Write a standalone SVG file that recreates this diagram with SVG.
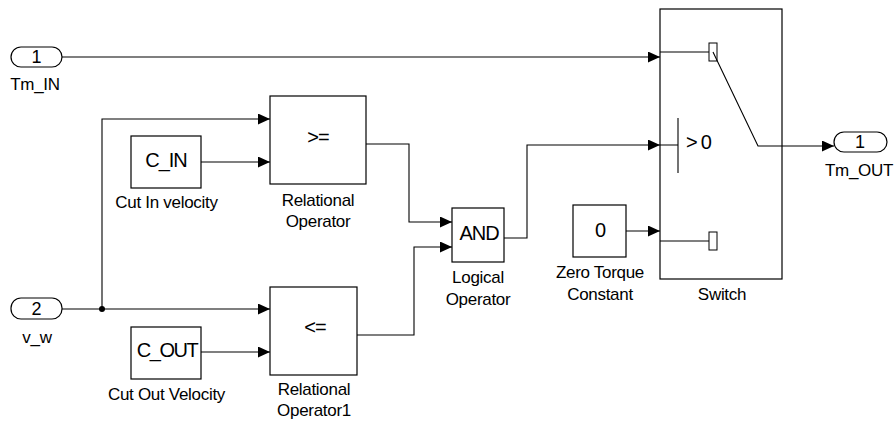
<svg xmlns="http://www.w3.org/2000/svg" width="894" height="421" viewBox="0 0 894 421">
<defs>
<marker id="arr" markerUnits="userSpaceOnUse" markerWidth="12" markerHeight="11" refX="12" refY="5.5" orient="auto"><path d="M0,0 L12,5.5 L0,11 z" fill="#000"/></marker>
<style>
.blk{fill:#fff;stroke:#000;stroke-width:1.2}
.ln{fill:none;stroke:#000;stroke-width:1.1}
.w{stroke:#000;stroke-width:1.1;fill:none;marker-end:url(#arr)}
.lbl{font-family:"Liberation Sans",Arial,sans-serif;font-size:17px;letter-spacing:-0.3px;fill:#000;text-anchor:middle}
.big{font-family:"Liberation Sans",Arial,sans-serif;font-size:20px;letter-spacing:-1px;fill:#000;text-anchor:middle}
.num{font-family:"Liberation Sans",Arial,sans-serif;font-size:18px;fill:#000;text-anchor:middle}
</style>
</defs>
<rect width="894" height="421" fill="#fff"/>
<g id="connectors">
<path class="w" d="M62,57 H660"/>
<path class="w" d="M62,309 H270"/>
<path class="w" d="M102,309 V119 H270"/>
<circle cx="102" cy="309" r="3" fill="#000"/>
<path class="w" d="M201,162 H270"/>
<path class="w" d="M201,352 H270"/>
<path class="w" d="M366,144 H409 V222 H452"/>
<path class="w" d="M357,335 H414 V247 H452"/>
<path class="w" d="M504,238 H527 V145 H660"/>
<path class="w" d="M626,231 H660"/>
<path class="w" d="M782,146 H834"/>
</g>
<g id="tm_in">
<rect class="blk" x="11" y="47" width="51" height="20" rx="10"/>
<text class="num" x="36.5" y="63">1</text>
<text class="lbl" x="35" y="90">Tm_IN</text>
</g>
<g id="v_w">
<rect class="blk" x="11" y="298" width="51" height="21" rx="10"/>
<text class="num" x="36.5" y="315">2</text>
<text class="lbl" x="37" y="343">v_w</text>
</g>
<g id="c_in">
<rect class="blk" x="131" y="136" width="70" height="52"/>
<text class="big" x="166" y="167">C_IN</text>
<text class="lbl" x="166.5" y="208">Cut In velocity</text>
</g>
<g id="c_out">
<rect class="blk" x="131" y="327" width="70" height="52"/>
<text class="big" x="167" y="357" style="letter-spacing:-1.5px">C_OUT</text>
<text class="lbl" x="166.5" y="400">Cut Out Velocity</text>
</g>
<g id="relop">
<rect class="blk" x="270" y="96" width="96" height="88"/>
<text class="big" x="318" y="144">&gt;=</text>
<text class="lbl" x="318" y="206">Relational</text>
<text class="lbl" x="318" y="227">Operator</text>
</g>
<g id="relop1">
<rect class="blk" x="270" y="287" width="87" height="88"/>
<text class="big" x="315" y="334">&lt;=</text>
<text class="lbl" x="314" y="395">Relational</text>
<text class="lbl" x="314" y="416">Operator1</text>
</g>
<g id="logical">
<rect class="blk" x="452" y="208" width="52" height="54"/>
<text class="big" x="479" y="240">AND</text>
<text class="lbl" x="478" y="283">Logical</text>
<text class="lbl" x="478" y="305">Operator</text>
</g>
<g id="zero">
<rect class="blk" x="573" y="205" width="53" height="52"/>
<text class="big" x="600" y="237">0</text>
<text class="lbl" x="600" y="278">Zero Torque</text>
<text class="lbl" x="600" y="300">Constant</text>
</g>
<g id="switch">
<rect class="blk" x="660" y="9" width="122" height="270"/>
<path class="ln" d="M660,52 H709"/>
<rect x="709" y="43" width="8" height="18" fill="#fff" stroke="#000" stroke-width="1"/>
<path class="ln" d="M713,52 L758,146 H782"/>
<path class="ln" d="M660,145 H678 M678,118 V173"/>
<text class="big" x="686" y="149" style="text-anchor:start;letter-spacing:0">&gt;<tspan dx="3">0</tspan></text>
<path class="ln" d="M660,241 H709"/>
<rect x="709" y="232" width="8" height="18" fill="#fff" stroke="#000" stroke-width="1"/>
<text class="lbl" x="722" y="300">Switch</text>
</g>
<g id="tm_out">
<rect class="blk" x="834" y="132" width="53" height="20" rx="10"/>
<text class="num" x="860" y="148">1</text>
<text class="lbl" x="859" y="176">Tm_OUT</text>
</g>
</svg>
